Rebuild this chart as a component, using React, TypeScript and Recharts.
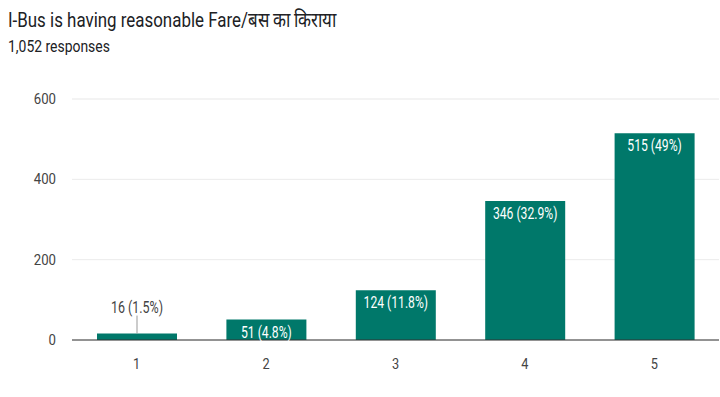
import React from "react";
import {
  BarChart,
  Bar,
  XAxis,
  YAxis,
  CartesianGrid,
  LabelList,
} from "recharts";

const ratings = ["1", "2", "3", "4", "5"];
const responses = [16, 51, 124, 346, 515];
const shares = ["1.5%", "4.8%", "11.8%", "32.9%", "49%"];
const yTicks = [0, 200, 400, 600];
const minorTicks = [100, 300, 500];

const FONT = "'Roboto', sans-serif";
const BAR_COLOR = "#00786a";

const data = ratings.map((r, i) => ({
  rating: r,
  count: responses[i],
  label: `${responses[i]} (${shares[i]})`,
}));

// condensed text: the reference uses a narrow face, so squeeze horizontally
function NarrowText({ x, y, fill, size, scale, children }: any) {
  return (
    <text
      transform={`translate(${x},${y}) scale(${scale},1)`}
      textAnchor="middle"
      fill={fill}
      fontSize={size}
      fontFamily={FONT}
    >
      {children}
    </text>
  );
}

// label sits inside the bar top, or above with a leader line if the bar is too short
function BarLabel(props: any) {
  const { x, y, width, height, index } = props;
  const text = data[index].label;
  const cx = x + width / 2;
  if (height < 18) {
    return (
      <g>
        <line x1={cx} y1={y} x2={cx} y2={y - 18} stroke="#999" strokeWidth={1} />
        <NarrowText x={cx} y={y - 21} fill="#444" size={16} scale={0.78}>
          {text}
        </NarrowText>
      </g>
    );
  }
  return (
    <NarrowText x={cx} y={y + 18} fill="#ffffff" size={16} scale={0.76}>
      {text}
    </NarrowText>
  );
}

function XTick(props: any) {
  const { x, y, payload } = props;
  return (
    <NarrowText x={x} y={y + 11} fill="#444" size={15} scale={0.85}>
      {payload.value}
    </NarrowText>
  );
}

function YTick(props: any) {
  const { x, y, payload } = props;
  return (
    <text
      transform={`translate(${x},${y + 5}) scale(0.88,1)`}
      textAnchor="end"
      fill="#444"
      fontSize={15}
      fontFamily={FONT}
    >
      {payload.value}
    </text>
  );
}

export default function App() {
  return (
    <div
      style={{
        position: "absolute",
        left: 0,
        top: 0,
        width: 720,
        height: 397,
        background: "#fff",
        overflow: "hidden",
        fontFamily: FONT,
      }}
    >
      <div
        style={{
          position: "absolute",
          left: 8,
          top: 5,
          fontSize: 21,
          color: "#202124",
          whiteSpace: "nowrap",
          transform: "scaleX(0.805)",
          transformOrigin: "left top",
        }}
      >
        I-Bus is having reasonable Fare/बस का किराया
      </div>
      <div
        style={{
          position: "absolute",
          left: 8,
          top: 37,
          fontSize: 16,
          color: "#202124",
          whiteSpace: "nowrap",
          transform: "scaleX(0.87)",
          transformOrigin: "left top",
        }}
      >
        1,052 responses
      </div>
      <BarChart
        width={720}
        height={397}
        data={data}
        margin={{ top: 99, right: 1, bottom: 27, left: 12 }}
        barCategoryGap={0}
        style={{ position: "absolute", left: 0, top: 0 }}
      >
        <CartesianGrid yAxisId="minor" vertical={false} stroke="#f6f6f6" />
        <CartesianGrid vertical={false} stroke="#ebebeb" />
        <XAxis
          dataKey="rating"
          axisLine={{ stroke: "#333" }}
          tickLine={false}
          tickMargin={12}
          tick={<XTick />}
        />
        <YAxis
          domain={[0, 600]}
          ticks={yTicks}
          width={60}
          axisLine={false}
          tickLine={false}
          tickMargin={10}
          tick={<YTick />}
        />
        <YAxis
          yAxisId="minor"
          domain={[0, 600]}
          ticks={minorTicks}
          width={0}
          hide
        />
        <Bar
          dataKey="count"
          fill={BAR_COLOR}
          barSize={80}
          isAnimationActive={false}
        >
          <LabelList dataKey="count" content={BarLabel} />
        </Bar>
      </BarChart>
    </div>
  );
}
